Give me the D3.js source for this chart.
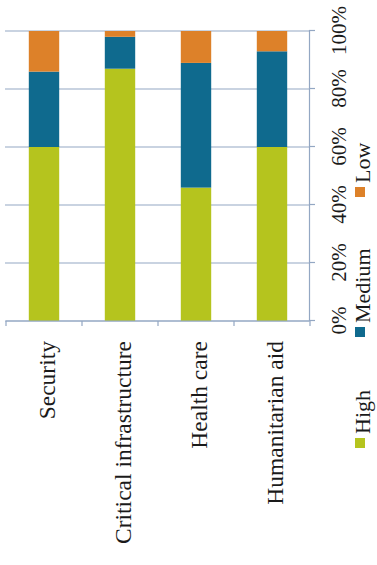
<!DOCTYPE html>
<html>
<head>
<meta charset="utf-8">
<script src="https://cdn.jsdelivr.net/npm/d3@7"></script>
<style>
  html, body { margin: 0; padding: 0; background: #fff; }
  svg { display: block; }
  text { font-family: "Liberation Serif", "DejaVu Serif", serif; fill: #1a1a1a; }
</style>
</head>
<body>
<svg id="chart" width="377" height="565"></svg>
<script>
// Data
const categories = ["Security", "Critical infrastructure", "Health care", "Humanitarian aid"];
const seriesNames = ["High", "Medium", "Low"];
const high   = [60, 87, 46, 60];
const medium = [26, 11, 43, 33];
const low    = [14, 2, 11, 7];
const tickValues = [0, 20, 40, 60, 80, 100];
const tickLabels = ["0%", "20%", "40%", "60%", "80%", "100%"];
const colors = ["#b5c41e", "#0f6a8e", "#dd8129"];

const W = 377, H = 565;
const svg = d3.select("#chart");
// Whole chart is drawn as a horizontal bar chart, then rotated -90deg.
const g = svg.append("g").attr("transform", `translate(0,${H}) rotate(-90)`);

const rows = categories.map((c, i) => ({ cat: c, High: high[i], Medium: medium[i], Low: low[i] }));
const stack = d3.stack().keys(seriesNames)(rows);

const x = d3.scaleLinear().domain([0, 100]).range([244, 534]);
const y = d3.scaleBand().domain(categories).range([6, 310]).paddingInner(0.6).paddingOuter(0.3);
const color = d3.scaleOrdinal().domain(seriesNames).range(colors);

const gridColor = "#93a7c3";

// gridlines
g.append("g").selectAll("line").data(tickValues).join("line")
  .attr("x1", d => x(d)).attr("x2", d => x(d))
  .attr("y1", 5).attr("y2", 309)
  .attr("stroke", gridColor).attr("stroke-width", 1.2);

// bars
g.append("g").selectAll("g").data(stack).join("g")
  .attr("fill", d => color(d.key))
  .selectAll("rect").data(d => d).join("rect")
  .attr("x", d => x(d[0]))
  .attr("width", d => x(d[1]) - x(d[0]))
  .attr("y", d => y(d.data.cat))
  .attr("height", y.bandwidth());

// value axis (original bottom)
const xAxis = g.append("g").attr("transform", "translate(0,309)")
  .call(d3.axisBottom(x).tickValues(tickValues).tickFormat((d, i) => tickLabels[i]).tickSize(6).tickPadding(0));
xAxis.select(".domain").attr("stroke", gridColor).attr("stroke-width", 1.2);
xAxis.selectAll(".tick line").attr("stroke", gridColor).attr("stroke-width", 1.2);
xAxis.selectAll(".tick text")
  .attr("y", 37).attr("dy", 0)
  .attr("font-size", 21).attr("font-family", "Liberation Serif").attr("fill", "#1a1a1a");

// category axis (original left)
const catAxis = g.append("g");
catAxis.append("line")
  .attr("x1", x(0)).attr("x2", x(0)).attr("y1", 6).attr("y2", 310)
  .attr("stroke", gridColor).attr("stroke-width", 1.2);
const bounds = categories.map(c => y(c) - y.step() * y.paddingInner() / 2 - (y.step() - y.bandwidth()) / 2 + y.step() * 0.3);
const edges = [y.range()[0]].concat(categories.map(c => y(c) + y.bandwidth() / 2 + y.step() / 2));
catAxis.selectAll("line.tk").data(edges).join("line").attr("class", "tk")
  .attr("x1", x(0)).attr("x2", x(0) - 5)
  .attr("y1", d => d).attr("y2", d => d)
  .attr("stroke", gridColor).attr("stroke-width", 1.2);
catAxis.selectAll("text").data(categories).join("text")
  .attr("x", x(0) - 20)
  .attr("y", d => y(d) + y.bandwidth() / 2)
  .attr("dy", "0.45em")
  .attr("text-anchor", "end")
  .attr("font-size", 23.5)
  .text(d => d);

// legend
const legendPos = [117, 228, 368];
const leg = g.append("g").selectAll("g").data(seriesNames).join("g")
  .attr("transform", (d, i) => `translate(${legendPos[i]},355)`);
leg.append("rect").attr("width", 10).attr("height", 10).attr("fill", d => color(d));
leg.append("text").attr("x", 14).attr("y", 15).attr("font-size", 22).text(d => d);
</script>
</body>
</html>
